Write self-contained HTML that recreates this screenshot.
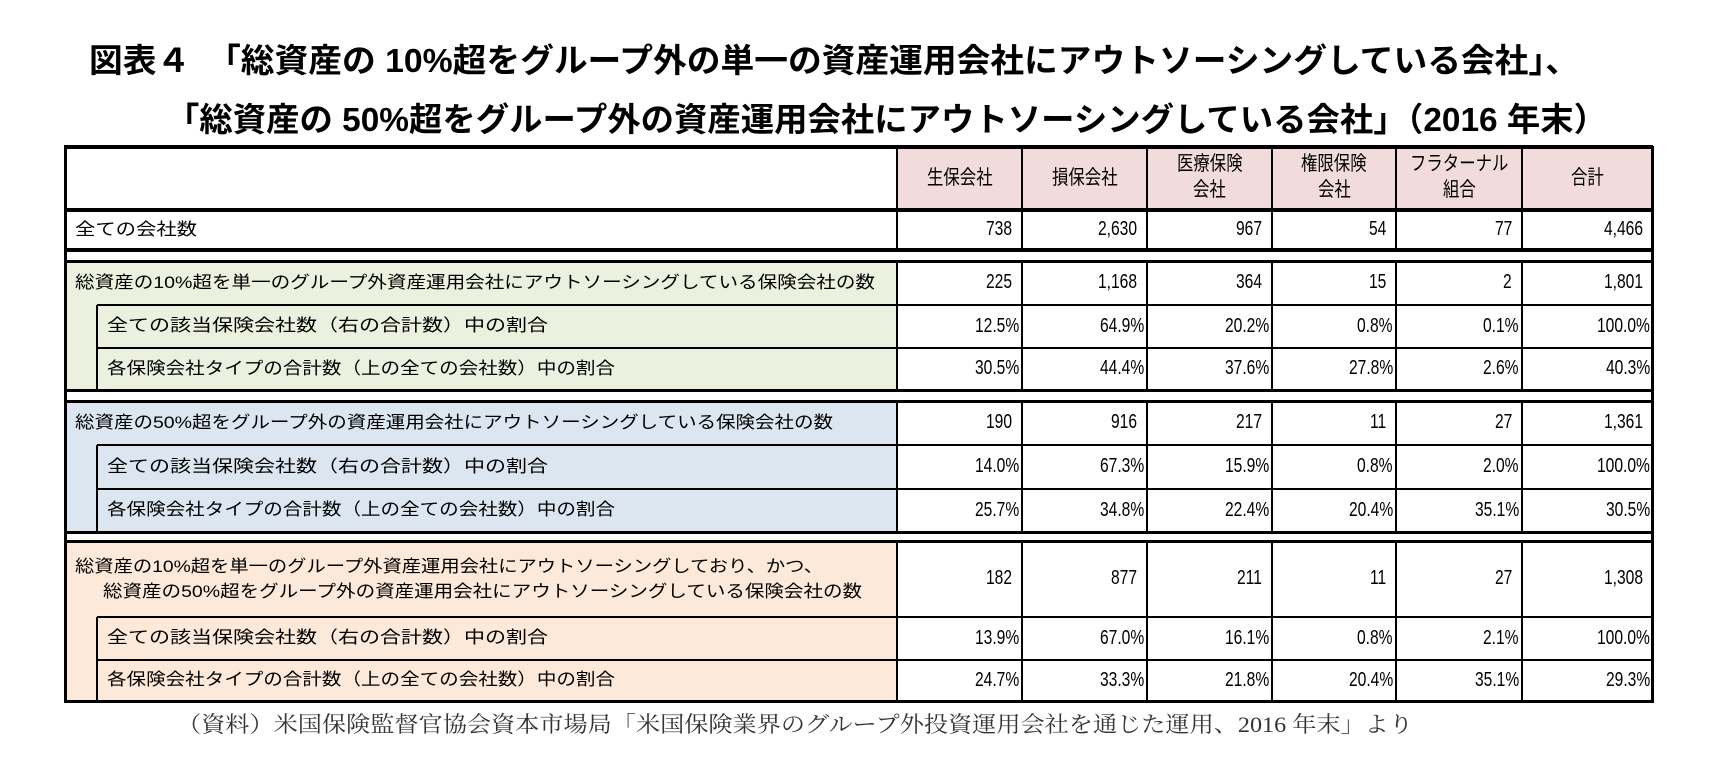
<!DOCTYPE html>
<html><head><meta charset="utf-8">
<style>
html,body{margin:0;padding:0;background:#fff;}
#root{position:relative;width:1729px;height:767px;overflow:hidden;background:#fff;font-family:"Liberation Sans","Noto Sans CJK JP",sans-serif;color:#000;}
.abs{position:absolute;box-sizing:border-box;}
.t{position:absolute;white-space:nowrap;transform-origin:0 50%;line-height:1;}
.ttl{font-weight:bold;font-size:33px;}
.cell{font-size:17px;}
</style></head>
<body>
<div id="root">
  <div class="t ttl" id="title1" style="left:89px;top:44px;">図表４　「総資産の 10%超をグループ外の単一の資産運用会社にアウトソーシングしている会社」、</div>
  <div class="t ttl" id="title2" style="left:166px;top:103px;">「総資産の 50%超をグループ外の資産運用会社にアウトソーシングしている会社」（2016 年末）</div>
  <div class="t" id="foot" style="left:177px;top:714px;font-family:'Liberation Serif','Noto Serif CJK SC',serif;font-size:22px;color:#333;">（資料）米国保険監督官協会資本市場局「米国保険業界のグループ外投資運用会社を通じた運用、2016 年末」より</div>
</div>
<script>
const colEdges=[64,897,1022,1147,1272,1396,1522,1653];
const headers=[["生保会社"],["損保会社"],["医療保険","会社"],["権限保険","会社"],["フラターナル","組合"],["合計"]];
const rowAll=["738","2,630","967","54","77","4,466"];
const g1Count=["225","1,168","364","15","2","1,801"];
const g1Share=["12.5%","64.9%","20.2%","0.8%","0.1%","100.0%"];
const g1Ratio=["30.5%","44.4%","37.6%","27.8%","2.6%","40.3%"];
const g2Count=["190","916","217","11","27","1,361"];
const g2Share=["14.0%","67.3%","15.9%","0.8%","2.0%","100.0%"];
const g2Ratio=["25.7%","34.8%","22.4%","20.4%","35.1%","30.5%"];
const g3Count=["182","877","211","11","27","1,308"];
const g3Share=["13.9%","67.0%","16.1%","0.8%","2.1%","100.0%"];
const g3Ratio=["24.7%","33.3%","21.8%","20.4%","35.1%","29.3%"];

const root=document.getElementById('root');
function fit(el,w){const r=el.getBoundingClientRect().width;if(r>0)el.style.transform='scaleX('+(w/r)+')';}
function box(x,y,w,h,bg,name){const d=document.createElement('div');d.className='abs';
d.style.cssText+='left:'+x+'px;top:'+y+'px;width:'+w+'px;height:'+h+'px;background:'+bg+';';


root.appendChild(d);return d;}
function txt(s,x,yc,name,size){const d=document.createElement('div');d.className='t cell';d.textContent=s;
d.style.left=x+'px';d.style.top=(yc-(size||17)/2-1)+'px';if(size)d.style.fontSize=size+'px';


root.appendChild(d);return d;}
function hline(x1,x2,y,t){box(x1,y-t/2,x2-x1,t,'#000','h-rule');}
function vline(x,y1,y2,t){box(x-t/2,y1,t,y2-y1,'#000','v-rule');}
function rtxt(s,right,yc,name){const d=txt(s,0,yc,name,20);const w=d.getBoundingClientRect().width*0.78;d.style.transform='scaleX(0.78)';d.style.left=(right-w)+'px';return d;}

// header
box(897,147,756,63,'#f2dcdb','header-bg');
headers.forEach((h,i)=>{const cx=(colEdges[i+1]+colEdges[i+2])/2;
 h.forEach((line,j)=>{const yc=h.length==1?179:(165+j*26);const d=txt(line,0,yc,'column-header',20);
 const w=d.getBoundingClientRect().width*0.82;d.style.transform='scaleX(0.82)';d.style.left=(cx-w/2)+'px';});});

const groups=[
 {y:[261,305,348,390],bg:'#ebf1de',rows:[g1Count,g1Share,g1Ratio],labels:[["総資産の10%超を単一のグループ外資産運用会社にアウトソーシングしている保険会社の数",800]]},
 {y:[401,445,489,532],bg:'#dce6f1',rows:[g2Count,g2Share,g2Ratio],labels:[["総資産の50%超をグループ外の資産運用会社にアウトソーシングしている保険会社の数",758]]},
 {y:[541,617,660,701],bg:'#fde9d9',rows:[g3Count,g3Share,g3Ratio],labels:null}
];
const subLabels=[["全ての該当保険会社数（右の合計数）中の割合",441],["各保険会社タイプの合計数（上の全ての会社数）中の割合",508]];

// all companies row
txt('全ての会社数',75,230,'row-label-all');
fit(root.lastChild,122);
rowAll.forEach((v,i)=>rtxt(v,colEdges[i+2]-10,230,'value-all'));

groups.forEach((g,gi)=>{
 box(64,g.y[0],833,g.y[3]-g.y[0],g.bg,'group-'+(gi+1)+'-label-bg');
 const yc0=(g.y[0]+g.y[1])/2;
 if(g.labels){const d=txt(g.labels[0][0],75,yc0,'group-label');fit(d,g.labels[0][1]);}
 else{const a=txt('総資産の10%超を単一のグループ外資産運用会社にアウトソーシングしており、かつ、',75,567,'group-label-line1');fit(a,748);
      const b=txt('総資産の50%超をグループ外の資産運用会社にアウトソーシングしている保険会社の数',103,592,'group-label-line2');fit(b,759);}
 for(let r=1;r<3;r++){const yc=(g.y[r]+g.y[r+1])/2;const d=txt(subLabels[r-1][0],107,yc,'sub-row-label');fit(d,subLabels[r-1][1]);}
 g.rows.forEach((vals,r)=>{const yc=(g.y[r]+g.y[r+1])/2;
  vals.forEach((v,i)=>rtxt(v,colEdges[i+2]-(v.indexOf('%')>=0?3:10),yc,'value-g'+(gi+1)));});
 hline(64,1653,g.y[0],3);hline(64,1653,g.y[3],3);
 hline(97,1653,g.y[1],2);hline(97,1653,g.y[2],2);
 vline(97,g.y[1],g.y[3],2);
 for(let c=1;c<colEdges.length-1;c++)vline(colEdges[c],g.y[0],g.y[3],2);
});
hline(64,1653,147,4);hline(64,1653,210,4);hline(64,1653,250,4);
for(let c=1;c<colEdges.length-1;c++)vline(colEdges[c],147,250,2);
vline(65,146,703,3);vline(1652,146,703,3);
fit(document.getElementById('title1'),1490);
fit(document.getElementById('title2'),1441);
fit(document.getElementById('foot'),1236);
</script>
</body></html>
